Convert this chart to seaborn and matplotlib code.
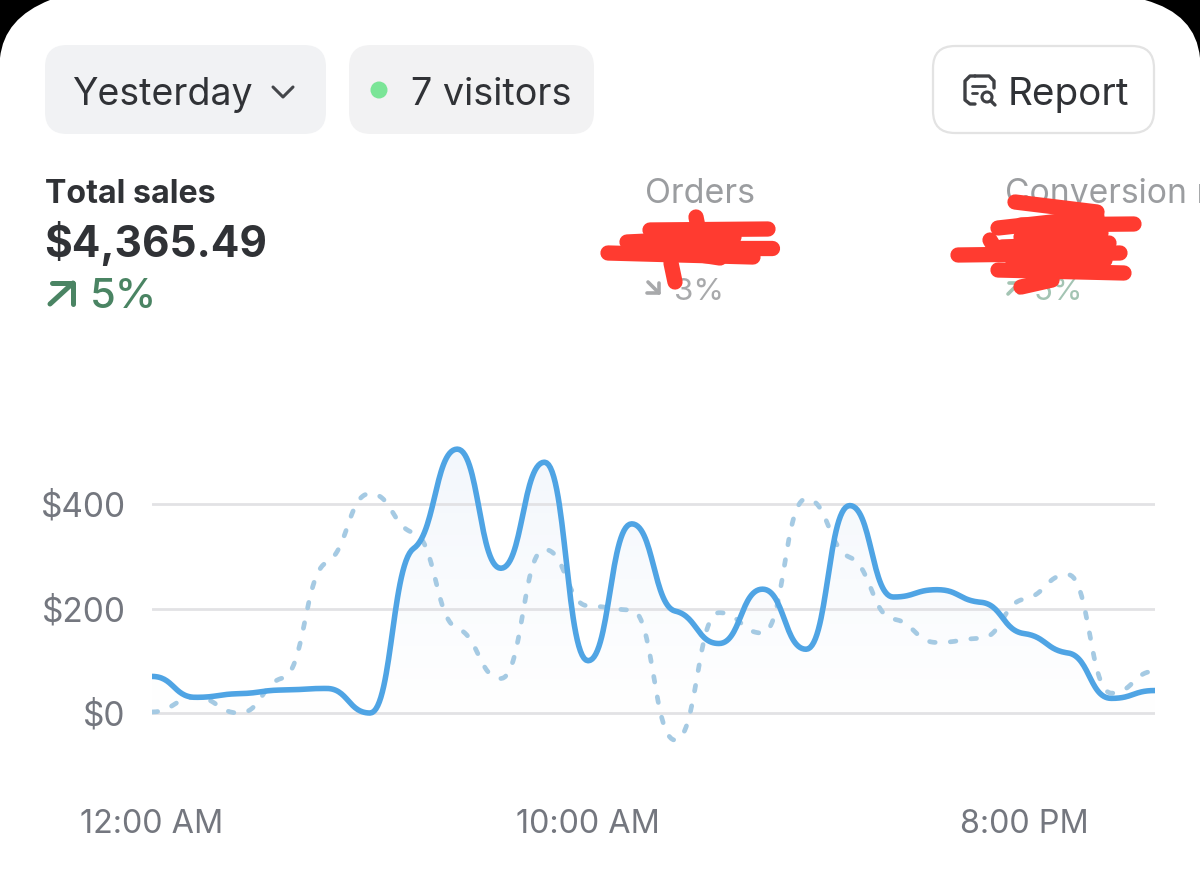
import numpy as np
import pandas as pd
import seaborn as sns
import matplotlib
matplotlib.use("Agg")
import matplotlib.pyplot as plt
from matplotlib.patches import FancyBboxPatch, PathPatch, Circle
from matplotlib.path import Path

# ---- data ----
hours = list(range(24))
current_sales = [70, 30, 37, 44, 47, 0, 315, 505, 277, 480, 100, 362,
                 195, 133, 237, 122, 397, 222, 236, 212, 152, 115, 28, 43]
previous_sales = [2, 30, 0, 67, 288, 420, 345, 162, 66, 313, 205, 197,
                  -52, 192, 153, 410, 298, 180, 135, 143, 218, 265, 38, 80]
y_ticks = [0, 200, 400]
y_labels = ["$0", "$200", "$400"]
x_ticks = [0, 10, 20]
x_labels = ["12:00 AM", "10:00 AM", "8:00 PM"]

W, H = 1200, 872
sns.set_theme(style="white")
plt.rcParams["font.family"] = ["Inter", "DejaVu Sans"]


def smooth(xs, ys, n=30, k=0.3, c=0.5):
    """Draw-time Bezier through the hourly values: flat at extrema, shallow on shoulders."""
    xs, ys = np.asarray(xs, float), np.asarray(ys, float)
    s = np.diff(ys)
    m = np.zeros_like(ys)
    for i in range(1, len(ys) - 1):
        if s[i-1] * s[i] > 0:
            m[i] = np.sign(s[i]) * k * min(abs(s[i-1]), abs(s[i]))
    out_x, out_y = [], []
    for i in range(len(xs) - 1):
        t = np.linspace(0, 1, n, endpoint=False)
        b0, b1, b2, b3 = (1-t)**3, 3*(1-t)**2*t, 3*(1-t)*t**2, t**3
        out_x.append(b0*xs[i] + b1*(xs[i]+c) + b2*(xs[i+1]-c) + b3*xs[i+1])
        out_y.append(b0*ys[i] + b1*(ys[i]+m[i]*c) + b2*(ys[i+1]-m[i+1]*c) + b3*ys[i+1])
    return np.r_[np.concatenate(out_x), xs[-1]], np.r_[np.concatenate(out_y), ys[-1]]


fig = plt.figure(figsize=(W/100, H/100), dpi=100, facecolor="white")

# ---- chart axes, mapped so that $0 / $400 and hours land on the reference ----
L, R, T, B = 152, 1155, 430, 760
ax = fig.add_axes([L/W, 1-B/H, (R-L)/W, (B-T)/H])
px_per_dollar = (713-504)/400
ylim = (-(B-713)/px_per_dollar, (713-T)/px_per_dollar)
ax.patch.set_alpha(0)
for s in ax.spines.values():
    s.set_visible(False)

for v in y_ticks:
    ax.axhline(v, color="#E2E2E5", lw=2.0, zorder=1)

sx, sy = smooth(hours, current_sales)
px, py = smooth(hours, previous_sales)

# pale gradient under the main curve
grad = np.linspace(0, 1, 256).reshape(-1, 1)
cmap = matplotlib.colors.LinearSegmentedColormap.from_list("f", ["#F3F7FC", "#FFFFFF"])
im = ax.imshow(grad, extent=(0, 23, 0, 510), origin="upper", aspect="auto", cmap=cmap, zorder=0.5)
poly = ax.fill_between(sx, sy, 0, color="none")
im.set_clip_path(poly.get_paths()[0], transform=ax.transData)

prev_df = pd.DataFrame({"hour": px, "sales": py})
cur_df = pd.DataFrame({"hour": sx, "sales": sy})
sns.lineplot(data=prev_df, x="hour", y="sales", ax=ax, color="#A5CAE3", lw=3.4,
             estimator=None, sort=False, zorder=2)
prev_line = ax.lines[-1]
prev_line.set_linestyle((0, (1.2, 3.2)))
prev_line.set_dash_capstyle("round")
sns.lineplot(data=cur_df, x="hour", y="sales", ax=ax, color="#4FA4E4", lw=4.0,
             estimator=None, sort=False, zorder=3)
ax.lines[-1].set_solid_capstyle("round")
ax.set_xlim(0, 23)
ax.set_ylim(*ylim)

ax.set_xlabel("")
ax.set_ylabel("")
ax.set_xticks(x_ticks, x_labels)
ax.set_yticks(y_ticks, y_labels)
ax.tick_params(axis="x", length=0, pad=35, labelsize=23.3, labelcolor="#74777F")
ax.tick_params(axis="y", length=0, pad=19, labelsize=24, labelcolor="#74777F")

# ---- app chrome in pixel coordinates ----
ui = fig.add_axes([0, 0, 1, 1], zorder=5)
ui.set_xlim(0, W)
ui.set_ylim(H, 0)
ui.axis("off")
ui.patch.set_alpha(0)


def pill(x0, y0, x1, y1, r, fc, ec="none", lw=0):
    ui.add_patch(FancyBboxPatch((x0+r, y0+r), x1-x0-2*r, y1-y0-2*r,
                                boxstyle=f"round,pad={r},rounding_size={r}",
                                fc=fc, ec=ec, lw=lw, mutation_aspect=1))


def stroke(xs, ys, color, lw, z=3):
    ui.plot(xs, ys, color=color, lw=lw, solid_capstyle="round",
            solid_joinstyle="round", zorder=z)


# phone corners
ui.add_patch(PathPatch(Path([(0, 0), (0, 58), (4, 18), (50, 0), (0, 0)],
                            [Path.MOVETO, Path.LINETO, Path.CURVE3, Path.CURVE3, Path.CLOSEPOLY]),
                       fc="black", ec="none"))
ui.add_patch(PathPatch(Path([(W, 0), (W, 58), (1196, 14), (1145, 0), (W, 0)],
                            [Path.MOVETO, Path.LINETO, Path.CURVE3, Path.CURVE3, Path.CLOSEPOLY]),
                       fc="black", ec="none"))

pill(45, 45, 326, 134, 22, "#F1F2F4")
pill(349, 45, 594, 134, 22, "#F2F2F3")
pill(933, 46, 1154, 133, 22, "white", "#E3E3E3", 1.6)

DARK = "#303236"
ui.text(72, 105, "Yesterday", fontsize=27, color=DARK, va="baseline")
stroke([273, 283, 293], [87, 97, 87], "#44464A", 2.2)
ui.add_patch(Circle((379, 90), 8.5, fc="#7BE597", ec="none"))
ui.text(411, 105, "7 visitors", fontsize=27.2, color=DARK, va="baseline")
ui.text(1008, 105, "Report", fontsize=27.8, color=DARK, va="baseline")

# report icon
stroke([975, 970, 965, 965, 970, 975], [104, 104, 100, 81, 76, 76], "#3E4044", 2.4)
stroke([975, 989, 994, 994], [76, 76, 81, 88], "#3E4044", 2.4)
stroke([972, 985], [86, 86], "#3E4044", 2.0)
stroke([972, 977], [93, 93], "#3E4044", 2.0)
ui.add_patch(Circle((987, 97), 5, fc="none", ec="#3E4044", lw=2.2))
stroke([991, 995], [101, 105], "#3E4044", 2.4)

# metrics
ui.text(45, 203, "Total sales", fontsize=23.2, fontweight="bold", color=DARK, va="baseline")
ui.text(44, 257, "$4,365.49", fontsize=30.5, fontweight="bold", color=DARK, va="baseline")
GREEN = "#4A8463"
stroke([50, 73], [304, 283], GREEN, 3.6)
stroke([52, 73, 73], [283, 283, 304], GREEN, 3.6)
ui.text(90, 308, "5%", fontsize=30, fontweight="medium", color=GREEN, va="baseline")

GRAY = "#9B9DA0"
ui.text(645, 203, "Orders", fontsize=24.5, color=GRAY, va="baseline")
stroke([648, 659], [282, 293], "#A8A9AB", 2.6)
stroke([659, 659, 647], [283, 293, 293], "#A8A9AB", 2.6)
ui.text(674, 300, "3%", fontsize=22.5, color="#A8A9AB", va="baseline")

ui.text(1005, 203, "Conversion r", fontsize=24.2, color=GRAY, va="baseline")
stroke([1008, 1019], [294, 283], "#A3C4B3", 2.6)
stroke([1009, 1019, 1019], [283, 283, 293], "#A3C4B3", 2.6)
ui.text(1034, 300, "5%", fontsize=22.5, color="#A3C4B3", va="baseline")

# red scribbles hiding numbers
RED = "#FF3B30"
scribbles = [
    ([608, 753], [253, 257]), ([627, 734], [242, 237]), ([650, 768], [230, 229]),
    ([677, 772], [248, 248]), ([696, 698], [217, 227]), ([671, 675], [263, 282]),
    ([657, 715], [240, 255]), ([655, 720], [248, 258]),
    ([1015, 1097], [202, 212]), ([998, 1097], [228, 217]), ([1021, 1134], [225, 224]),
    ([958, 1120], [255, 253]), ([998, 1124], [270, 273]), ([990, 998], [240, 253]),
    ([1021, 1052], [287, 280]), ([1002, 1109], [247, 243]), ([1013, 1105], [263, 260]),
    ([1021, 1101], [237, 233]),
]
for xs, ys in scribbles:
    stroke(xs, ys, RED, 11, z=6)

fig.savefig("out.png", dpi=100)
